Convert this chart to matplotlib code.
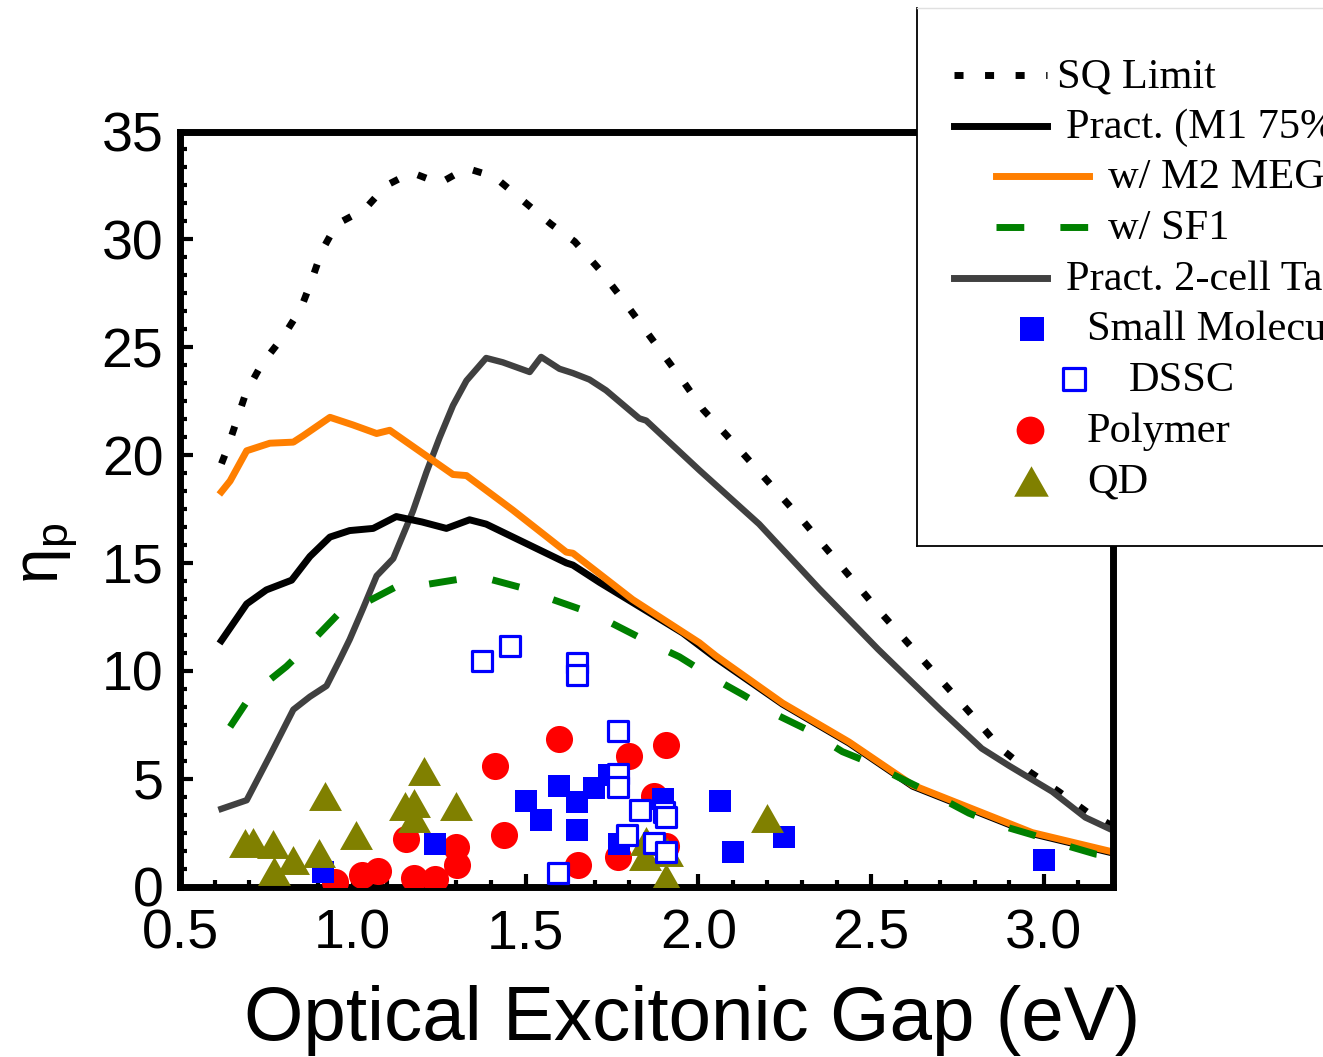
import matplotlib
matplotlib.use('Agg')
import matplotlib.pyplot as plt
from matplotlib.ticker import MultipleLocator, AutoMinorLocator

plt.rcParams['font.family'] = ['Liberation Sans', 'DejaVu Sans']
plt.rcParams['mathtext.fontset'] = 'custom'
plt.rcParams['mathtext.rm'] = 'Liberation Sans'
plt.rcParams['lines.scale_dashes'] = False

# Shockley-Queisser limit
sq_x = [0.62, 0.637, 0.664, 0.691, 0.736, 0.799, 0.85, 0.881, 0.91, 0.953, 1.035, 1.097,
        1.17, 1.251, 1.329, 1.41, 1.492, 1.574, 1.642, 1.714, 1.777, 1.837, 1.897, 1.957,
        2.014, 2.1, 2.2, 2.3, 2.4, 2.5, 2.6, 2.7, 2.8, 2.875, 2.96, 3.043, 3.125, 3.2]
sq_y = [19.6, 20.3, 21.6, 22.9, 24.2, 25.5, 26.8, 28.1, 29.45, 30.7, 31.4, 32.5,
        33.1, 32.6, 33.3, 32.9, 31.8, 30.7, 29.9, 28.6, 27.3, 26.0, 24.7, 23.4,
        22.1, 20.6, 18.8, 17.0, 15.1, 13.2, 11.4, 9.6, 7.8, 6.4, 5.3, 4.4, 3.45, 2.8]

# practical single junction (M1 75%)
pr_x = [0.62, 0.693, 0.75, 0.823, 0.876, 0.934, 0.991, 1.059, 1.126, 1.2, 1.271, 1.338,
        1.386, 1.502, 1.618, 1.637, 1.714, 1.858, 1.955, 2.05, 2.244, 2.436, 2.62, 2.793,
        2.966, 3.2]
pr_y = [11.4, 13.1, 13.75, 14.2, 15.3, 16.2, 16.5, 16.6, 17.15, 16.9, 16.6, 17.0,
        16.8, 15.9, 15.0, 14.9, 14.1, 12.7, 11.75, 10.6, 8.45, 6.65, 4.65, 3.55,
        2.45, 1.55]

# with M2 MEG
meg_x = [0.62, 0.645, 0.693, 0.76, 0.828, 0.857, 0.934, 1.0, 1.069, 1.107, 1.165, 1.29,
         1.329, 1.463, 1.618, 1.637, 1.81, 2.003, 2.05, 2.244, 2.436, 2.62, 2.793, 2.966, 3.2]
meg_y = [18.3, 18.8, 20.2, 20.55, 20.6, 20.9, 21.75, 21.4, 21.0, 21.15, 20.5, 19.1,
         19.05, 17.45, 15.5, 15.45, 13.3, 11.3, 10.7, 8.5, 6.7, 4.7, 3.6, 2.5, 1.6]

# with singlet fission
sf_x = [0.645, 0.707, 0.808, 0.866, 0.962, 1.03, 1.145, 1.213, 1.329, 1.396, 1.512, 1.579,
        1.695, 1.762, 1.872, 1.945, 2.05, 2.128, 2.234, 2.311, 2.417, 2.494, 2.6, 2.677,
        2.783, 2.86, 2.966, 3.043, 3.15, 3.2]
sf_y = [7.4, 8.9, 10.2, 11.1, 12.7, 13.1, 14.06, 14.0, 14.3, 14.25, 13.75, 13.3,
        12.65, 12.1, 11.2, 10.65, 9.6, 8.9, 7.9, 7.3, 6.25, 5.75, 4.9, 4.3,
        3.4, 2.9, 2.4, 2.0, 1.5, 1.4]

# practical 2-cell tandem
tan_x = [0.62, 0.693, 0.76, 0.828, 0.876, 0.924, 0.962, 0.991, 1.03, 1.069, 1.117, 1.174,
         1.213, 1.251, 1.29, 1.329, 1.386, 1.434, 1.512, 1.545, 1.598, 1.637, 1.685, 1.733,
         1.829, 1.849, 2.003, 2.176, 2.35, 2.52, 2.70, 2.82, 2.899, 3.024, 3.12, 3.2]
tan_y = [3.6, 4.0, 6.06, 8.2, 8.8, 9.3, 10.5, 11.45, 12.9, 14.4, 15.2, 17.4,
         19.2, 20.8, 22.3, 23.45, 24.5, 24.3, 23.85, 24.55, 24.0, 23.8, 23.5, 23.0,
         21.7, 21.6, 19.3, 16.8, 13.8, 11.0, 8.2, 6.4, 5.6, 4.4, 3.2, 2.6]

# measured devices
sm_x = [0.914, 1.237, 1.5, 1.545, 1.596, 1.649, 1.648, 1.699, 1.741, 1.77, 1.897, 2.063,
        2.1, 2.249, 3.0]
sm_y = [0.68, 1.98, 3.98, 3.06, 4.68, 3.9, 2.6, 4.55, 5.17, 1.98, 4.06, 3.98,
        1.6, 2.29, 1.21]

ds_x = [1.374, 1.456, 1.65, 1.65, 1.767, 1.767, 1.767, 1.831, 1.902, 1.905, 1.793, 1.873,
        1.905, 1.595]
ds_y = [10.45, 11.14, 10.37, 9.8, 7.21, 5.21, 4.6, 3.56, 3.44, 3.21, 2.4, 2.01,
        1.6, 0.64]

po_x = [0.948, 1.028, 1.073, 1.155, 1.177, 1.237, 1.3, 1.302, 1.413, 1.439, 1.598, 1.651,
        1.767, 1.799, 1.873, 1.905, 1.906]
po_y = [0.2, 0.52, 0.7, 2.2, 0.4, 0.37, 1.83, 0.98, 5.57, 2.4, 6.86, 0.98,
        1.37, 6.06, 4.2, 6.56, 1.9]

qd_x = [0.688, 0.712, 0.77, 0.771, 0.828, 0.901, 0.919, 1.01, 1.15, 1.178, 1.178, 1.205,
        1.298, 1.846, 1.849, 1.905, 1.91, 2.2]
qd_y = [2.0, 2.05, 1.97, 0.74, 1.21, 1.54, 4.2, 2.4, 3.74, 3.88, 3.19, 5.37,
        3.72, 1.41, 2.13, 0.4, 1.6, 3.17]

leg_labels = ['SQ Limit', 'Pract. (M1 75%)', 'w/ M2 MEG', 'w/ SF1', 'Pract. 2-cell Tandem',
              'Small Molecule', 'DSSC', 'Polymer', 'QD']

# styles
dotted = (0, (6.5, 15.5))
dashed = (0, (20, 26))
tri = [(-1, -0.88), (1, -0.88), (0, 0.88)]
c_orange, c_green, c_gray = '#ff7f00', '#008000', '#404040'
c_blue, c_red, c_olive = '#0000ff', '#ff0000', '#808000'

W, H = 1323, 1057
fig = plt.figure(figsize=(W / 100, H / 100), dpi=100)
ax = fig.add_axes([180 / W, 1 - 886.5 / H, 933 / W, 755 / H])

ax.plot(sq_x, sq_y, color='black', lw=5, ls=dotted, dash_capstyle='butt')
ax.plot(tan_x, tan_y, color=c_gray, lw=4.6)
ax.plot(pr_x, pr_y, color='black', lw=5)
ax.plot(meg_x, meg_y, color=c_orange, lw=5)
ax.plot(sf_x, sf_y, color=c_green, lw=5, ls=dashed, dash_capstyle='butt')

ax.scatter(po_x, po_y, s=380, marker='o', color=c_red, linewidths=0, zorder=3)
ax.scatter(sm_x, sm_y, s=272, marker='s', color=c_blue, linewidths=0, zorder=3)
ax.scatter(qd_x, qd_y, s=560, marker=tri, color=c_olive, linewidths=0, zorder=3)
ax.scatter(ds_x, ds_y, s=228, marker='s', facecolor='white', edgecolor=c_blue,
           linewidths=2.3, zorder=3)

ax.set_xlim(0.5, 3.2)
ax.set_ylim(0, 35)
ax.xaxis.set_major_locator(MultipleLocator(0.5))
ax.xaxis.set_minor_locator(MultipleLocator(0.1))
ax.yaxis.set_major_locator(MultipleLocator(5))
ax.yaxis.set_minor_locator(AutoMinorLocator(6))
ax.tick_params(which='major', direction='in', length=9.5, width=3, labelsize=40, pad=12)
ax.tick_params(axis='x', which='major', pad=16)
ax.tick_params(which='minor', direction='in', length=4.8, width=3)
for sp in ax.spines.values():
    sp.set_linewidth(5)

ax.set_xlabel('Optical Excitonic Gap (eV)', fontsize=55, va='center')
ax.xaxis.set_label_coords((692 - 180) / 933, -(1020 - 886.5) / 755)
ax.set_ylabel('η$_\\mathregular{p}$', fontsize=46, va='center')
ax.yaxis.set_label_coords((50 - 180) / 933, (886.5 - 553) / 755)

# legend panel, laid out in pixel units and running off the right edge
lax = fig.add_axes([917 / W, 1 - 546 / H, 506 / W, 538 / H], zorder=5)
lax.set_xlim(917, 1423)
lax.set_ylim(546, 8)
lax.set_xticks([])
lax.set_yticks([])
lax.spines['right'].set_visible(False)
lax.spines['left'].set_linewidth(1.3)
lax.spines['bottom'].set_linewidth(1.3)
lax.spines['top'].set_color('#e0e0e0')
lax.spines['top'].set_linewidth(1)

row0, step = 75, 50.7
line_x0 = [954, 954, 996, 996, 954]
line_len = 93
line_styles = [
    dict(color='black', lw=5, ls=dotted, dash_capstyle='butt'),
    dict(color='black', lw=5),
    dict(color=c_orange, lw=5),
    dict(color=c_green, lw=5, ls=dashed, dash_capstyle='butt'),
    dict(color=c_gray, lw=5),
]
text_x = [1057, 1066, 1108, 1108, 1066, 1087, 1129, 1087, 1087]
for i, st in enumerate(line_styles):
    yy = row0 + i * step
    lax.plot([line_x0[i], line_x0[i] + line_len], [yy, yy], **st)

mark_x = [1032, 1074, 1030, 1031]
mark_styles = [
    dict(s=300, marker='s', color=c_blue, linewidths=0),
    dict(s=235, marker='s', facecolor='white', edgecolor=c_blue, linewidths=2.3),
    dict(s=400, marker='o', color=c_red, linewidths=0),
    dict(s=620, marker=tri, color=c_olive, linewidths=0),
]
for j, st in enumerate(mark_styles):
    yy = row0 + (j + 5) * step
    lax.scatter([mark_x[j]], [yy], **st)

for i, lab in enumerate(leg_labels):
    lax.text(text_x[i], row0 + i * step + 12, lab, fontsize=30.5,
             family=['Liberation Serif', 'DejaVu Serif'], va='baseline', ha='left')

fig.savefig('out.png', dpi=100)
